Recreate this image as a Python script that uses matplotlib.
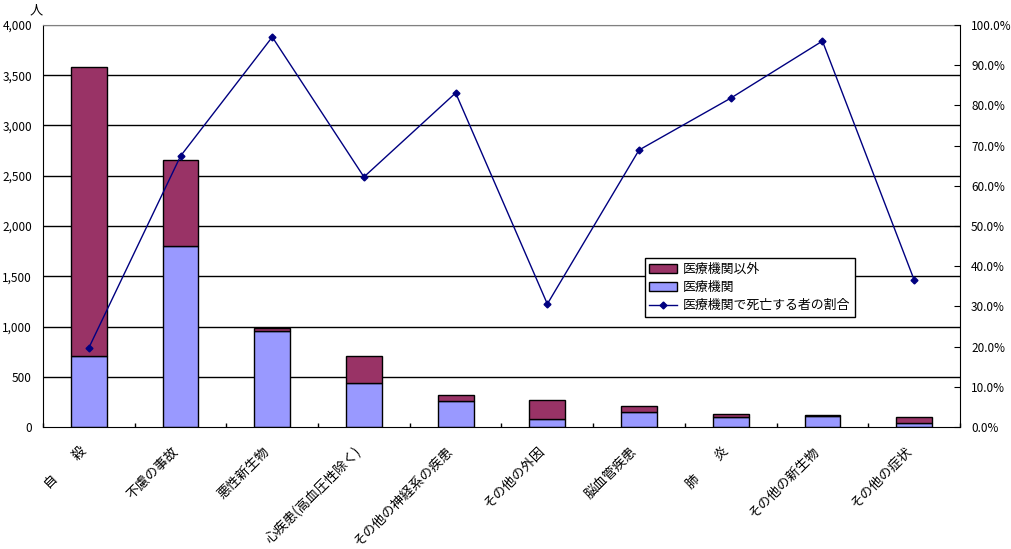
import matplotlib
matplotlib.use("Agg")
import matplotlib.pyplot as plt
import numpy as np
from matplotlib.ticker import FuncFormatter, MultipleLocator

plt.rcParams['font.family'] = ['Noto Sans CJK JP', 'DejaVu Sans']

categories = ["自　　殺", "不慮の事故", "悪性新生物", "心疾患(高血圧性除く)", "その他の神経系の疾患",
              "その他の外因", "脳血管疾患", "肺　　炎", "その他の新生物", "その他の症状"]
hospital = [710, 1800, 955, 440, 262, 80, 145, 103, 113, 38]
non_hospital = [2870, 860, 30, 270, 56, 186, 61, 23, 3, 58]
ratio_pct = [19.7, 67.4, 97.0, 62.2, 83.1, 30.6, 68.9, 81.8, 96.0, 36.6]

purple = "#993366"
blue = "#9999FF"
navy = "#000080"

fig = plt.figure(figsize=(10.12, 5.49), dpi=100)
ax = fig.add_axes([0.0425, 0.2222, 0.9061, 0.7323])
x = np.arange(len(categories))

for yv in np.arange(500, 4001, 500):
    ax.axhline(yv, color="black" if yv < 4000 else "#808080", lw=1, zorder=0)

b1 = ax.bar(x, hospital, width=0.39, color=blue, edgecolor="black", lw=1, zorder=2, label="医療機関")
b2 = ax.bar(x, non_hospital, bottom=hospital, width=0.39, color=purple, edgecolor="black", lw=1, zorder=2,
            label="医療機関以外")

ax.set_xlim(-0.5, len(categories) - 0.5)
ax.set_ylim(0, 4000)
ax.yaxis.set_major_locator(MultipleLocator(500))
ax.yaxis.set_major_formatter(FuncFormatter(lambda v, p: f"{int(v):,}"))
ax.tick_params(axis="y", labelsize=8.5, length=0, pad=8)
ax.set_xticks(np.arange(-0.5, len(categories)), minor=False)
ax.set_xticklabels([])
ax.tick_params(axis="x", direction="in", length=3, width=1)
for s in ["left", "bottom"]:
    ax.spines[s].set_color("black")
ax.spines["top"].set_color("#808080")
ax.spines["right"].set_visible(False)

for i, lab in enumerate(categories):
    ax.text(i + 0.0, -0.042, lab, transform=ax.get_xaxis_transform(), rotation=45,
            ha="right", va="top", fontsize=9.6, rotation_mode="default")

ax.text(0.0, 1.02, "人", transform=ax.transAxes, ha="right", va="bottom", fontsize=9.5)

ax2 = ax.twinx()
l1, = ax2.plot(x, ratio_pct, color=navy, lw=1, marker="D", markersize=3.5, zorder=5,
               label="医療機関で死亡する者の割合")
ax2.set_ylim(0, 100)
ax2.yaxis.set_major_locator(MultipleLocator(10))
ax2.yaxis.set_major_formatter(FuncFormatter(lambda v, p: f"{v:.1f}%"))
ax2.tick_params(axis="y", labelsize=8.5, direction="in", length=4, pad=8)
ax2.spines["right"].set_color("black")
ax2.spines["top"].set_visible(False)
ax2.spines["left"].set_visible(False)
ax2.spines["bottom"].set_visible(False)

leg = ax2.legend([b2, b1, l1], ["医療機関以外", "医療機関", "医療機関で死亡する者の割合"],
                 loc="lower left", bbox_to_anchor=(0.656, 0.274), fontsize=9.3,
                 frameon=True, fancybox=False, edgecolor="black", framealpha=1,
                 handlelength=2.2, handleheight=0.75, borderpad=0.35, labelspacing=0.4,
                 handletextpad=0.4, borderaxespad=0)
leg.get_frame().set_linewidth(1)

fig.savefig("out.png", dpi=100, facecolor="white")
